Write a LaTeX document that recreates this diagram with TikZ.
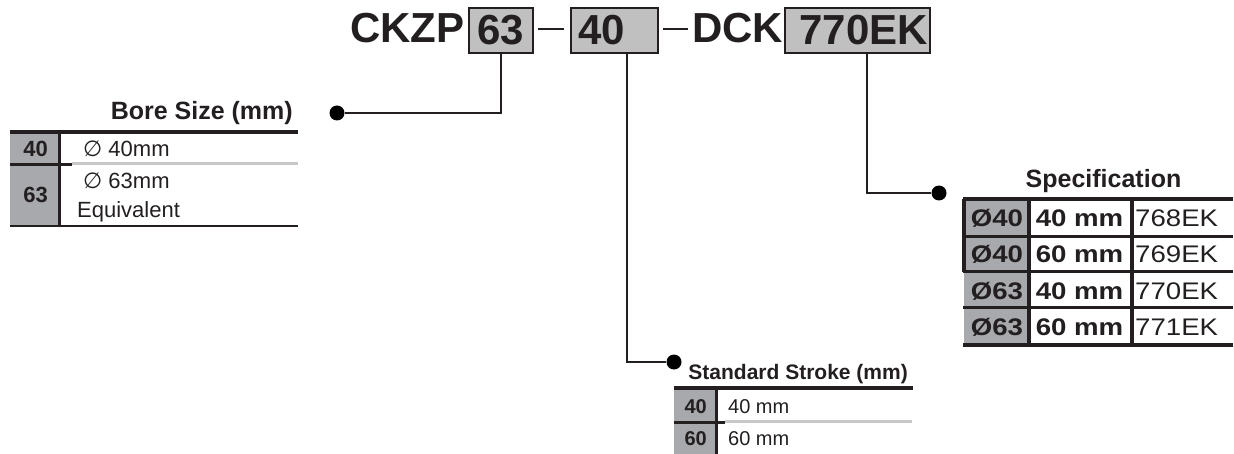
\documentclass[tikz,border=0pt]{standalone}
\usepackage{fontspec}
\setmainfont{Liberation Sans}
\newfontfamily\symfont{DejaVu Sans}
\newfontfamily\widefont[FakeStretch=1.15]{Liberation Sans}

\definecolor{ink}{HTML}{231F20}
\definecolor{boxgray}{HTML}{C0C0C0}
\definecolor{cellgray}{HTML}{A7A9AC}
\definecolor{rulegray}{HTML}{C8C8C8}

\tikzset{
  partbox/.style={draw=ink, line width=2.6pt, fill=boxgray, text=ink, inner sep=0pt,
    minimum height=45pt, font=\fontsize{42}{48}\selectfont\bfseries},
  parttext/.style={text=ink, inner sep=0pt, font=\fontsize{42}{48}\selectfont\bfseries},
  conn/.style={draw=ink, line width=2pt},
  dot/.style={circle, fill=black, inner sep=0pt, minimum size=15pt},
  thick rule/.style={draw=ink, line width=3.5pt},
  light rule/.style={draw=rulegray, line width=3pt},
  celltext/.style={text=ink, inner sep=0pt, font=\fontsize{22}{26}\selectfont},
  cellbold/.style={text=ink, inner sep=0pt, font=\fontsize{22}{26}\selectfont\bfseries},
  spectext/.style={text=ink, inner sep=0pt, font=\fontsize{24}{28}\selectfont\widefont},
}

\begin{document}
\begin{tikzpicture}[x=1pt, y=-1pt]
  \useasboundingbox (0,0) rectangle (1234,454);
  % part number
  \node[parttext, anchor=base west] (ckzp) at (350,43) {CKZP};
  \node[partbox, minimum width=64pt] (b63) at (501,30.5) {63};
  \node[partbox, text width=73pt, inner xsep=7pt, align=left] (b40) at (614.5,30.5) {40};
  \node[parttext, anchor=base west] (dck) at (692,43) {DCK};
  \node[partbox, minimum width=145pt] (b770) at (857.5,30.5) {\hspace{12pt}770EK};
  \draw[ink, line width=2.7pt] ([xshift=4pt,yshift=1.5pt]b63.east) -- ([xshift=-6pt,yshift=1.5pt]b40.west);
  \draw[ink, line width=2.7pt] ([xshift=4pt,yshift=1.5pt]b40.east) -- ([xshift=-4pt,yshift=1.5pt]dck.west |- b40.east);
  % leader dots
  \node[dot] (dbore) at (337,113) {};
  \node[dot] (dstroke) at (674,362) {};
  \node[dot] (dspec) at (939,193) {};
  % leaders
  \draw[conn] (b63.south) |- (dbore);
  \draw[conn] ([xshift=12.5pt]b40.south) |- (dstroke);
  \draw[conn] ([xshift=9.5pt]b770.south) |- (dspec);
  % bore size table
  \node[text=ink, inner sep=0pt, anchor=base east, font=\fontsize{25}{30}\selectfont\bfseries] (boretitle) at (293,120) {Bore Size (mm)};
  \fill[cellgray] (10,132) rectangle (59,226);
  \draw[thick rule] (10,132) -- (298,132);
  \draw[ink, line width=3pt] (59,132) -- (59,226);
  \draw[light rule] (72,163.5) -- (298,163.5);
  \draw[ink, line width=3pt] (10,164.5) -- (72,164.5);
  \draw[ink, line width=2.5pt] (10,226) -- (298,226);
  \node[cellbold, anchor=base east] (bore40) at (48,157) {40};
  \node[cellbold, anchor=base east] (bore63) at (48,203) {63};
  \node[celltext, anchor=base west] (bore40mm) at (83,157) {{\symfont ∅} 40mm};
  \node[celltext, anchor=base west] (bore63mm) at (83,189) {{\symfont ∅} 63mm};
  \node[celltext, anchor=base west] (boreeq) at (77,218) {Equivalent};
  % standard stroke table
  \node[text=ink, inner sep=0pt, anchor=base east, font=\fontsize{21}{25}\selectfont\bfseries] (stroketitle) at (908,379) {Standard Stroke (mm)};
  \fill[cellgray] (674,388) rectangle (715,454);
  \draw[thick rule] (674,388) -- (913,388);
  \draw[ink, line width=3pt] (716,388) -- (716,454);
  \draw[light rule] (725,421) -- (912,421);
  \draw[ink, line width=3pt] (674,422) -- (725,422);
  \node[cellbold, font=\fontsize{20}{24}\selectfont\bfseries, anchor=base east] (st40) at (707,413) {40};
  \node[cellbold, font=\fontsize{20}{24}\selectfont\bfseries, anchor=base east] (st60) at (707,445) {60};
  \node[celltext, font=\fontsize{20}{24}\selectfont, anchor=base west] (st40mm) at (728,413) {40 mm};
  \node[celltext, font=\fontsize{20}{24}\selectfont, anchor=base west] (st60mm) at (728,445) {60 mm};
  % specification table
  \node[text=ink, inner sep=0pt, anchor=base, font=\fontsize{25}{30}\selectfont\bfseries] (spectitle) at (1103.5,188) {Specification};
  \fill[cellgray] (964,199) rectangle (1029,345);
  \draw[thick rule] (963,199) -- (1233,199);
  \draw[ink, line width=3pt] (963,237) -- (1233,237);
  \draw[ink, line width=3pt] (963,272) -- (1233,272);
  \draw[ink, line width=3pt] (963,308) -- (1233,308);
  \draw[thick rule] (963,345) -- (1233,345);
  \draw[ink, line width=3.5pt] (964,199) -- (964,272);
  \draw[ink, line width=3.5pt] (1029,199) -- (1029,345);
  \draw[ink, line width=3.5pt] (1132,199) -- (1132,345);
  \node[spectext, font=\fontsize{24}{28}\selectfont\widefont\bfseries, anchor=base] (sa1) at (997,227) {Ø40};
  \node[spectext, font=\fontsize{24}{28}\selectfont\widefont\bfseries, anchor=base] (sa2) at (997,263) {Ø40};
  \node[spectext, font=\fontsize{24}{28}\selectfont\widefont\bfseries, anchor=base] (sa3) at (997,299) {Ø63};
  \node[spectext, font=\fontsize{24}{28}\selectfont\widefont\bfseries, anchor=base] (sa4) at (997,335) {Ø63};
  \node[spectext, font=\fontsize{24}{28}\selectfont\widefont\bfseries, anchor=base] (sb1) at (1079.5,227) {40 mm};
  \node[spectext, font=\fontsize{24}{28}\selectfont\widefont\bfseries, anchor=base] (sb2) at (1079.5,263) {60 mm};
  \node[spectext, font=\fontsize{24}{28}\selectfont\widefont\bfseries, anchor=base] (sb3) at (1079.5,299) {40 mm};
  \node[spectext, font=\fontsize{24}{28}\selectfont\widefont\bfseries, anchor=base] (sb4) at (1079.5,335) {60 mm};
  \node[spectext, anchor=base west] (sc1) at (1135,227) {768EK};
  \node[spectext, anchor=base west] (sc2) at (1135,263) {769EK};
  \node[spectext, anchor=base west] (sc3) at (1135,299) {770EK};
  \node[spectext, anchor=base west] (sc4) at (1135,335) {771EK};
\end{tikzpicture}
\end{document}
